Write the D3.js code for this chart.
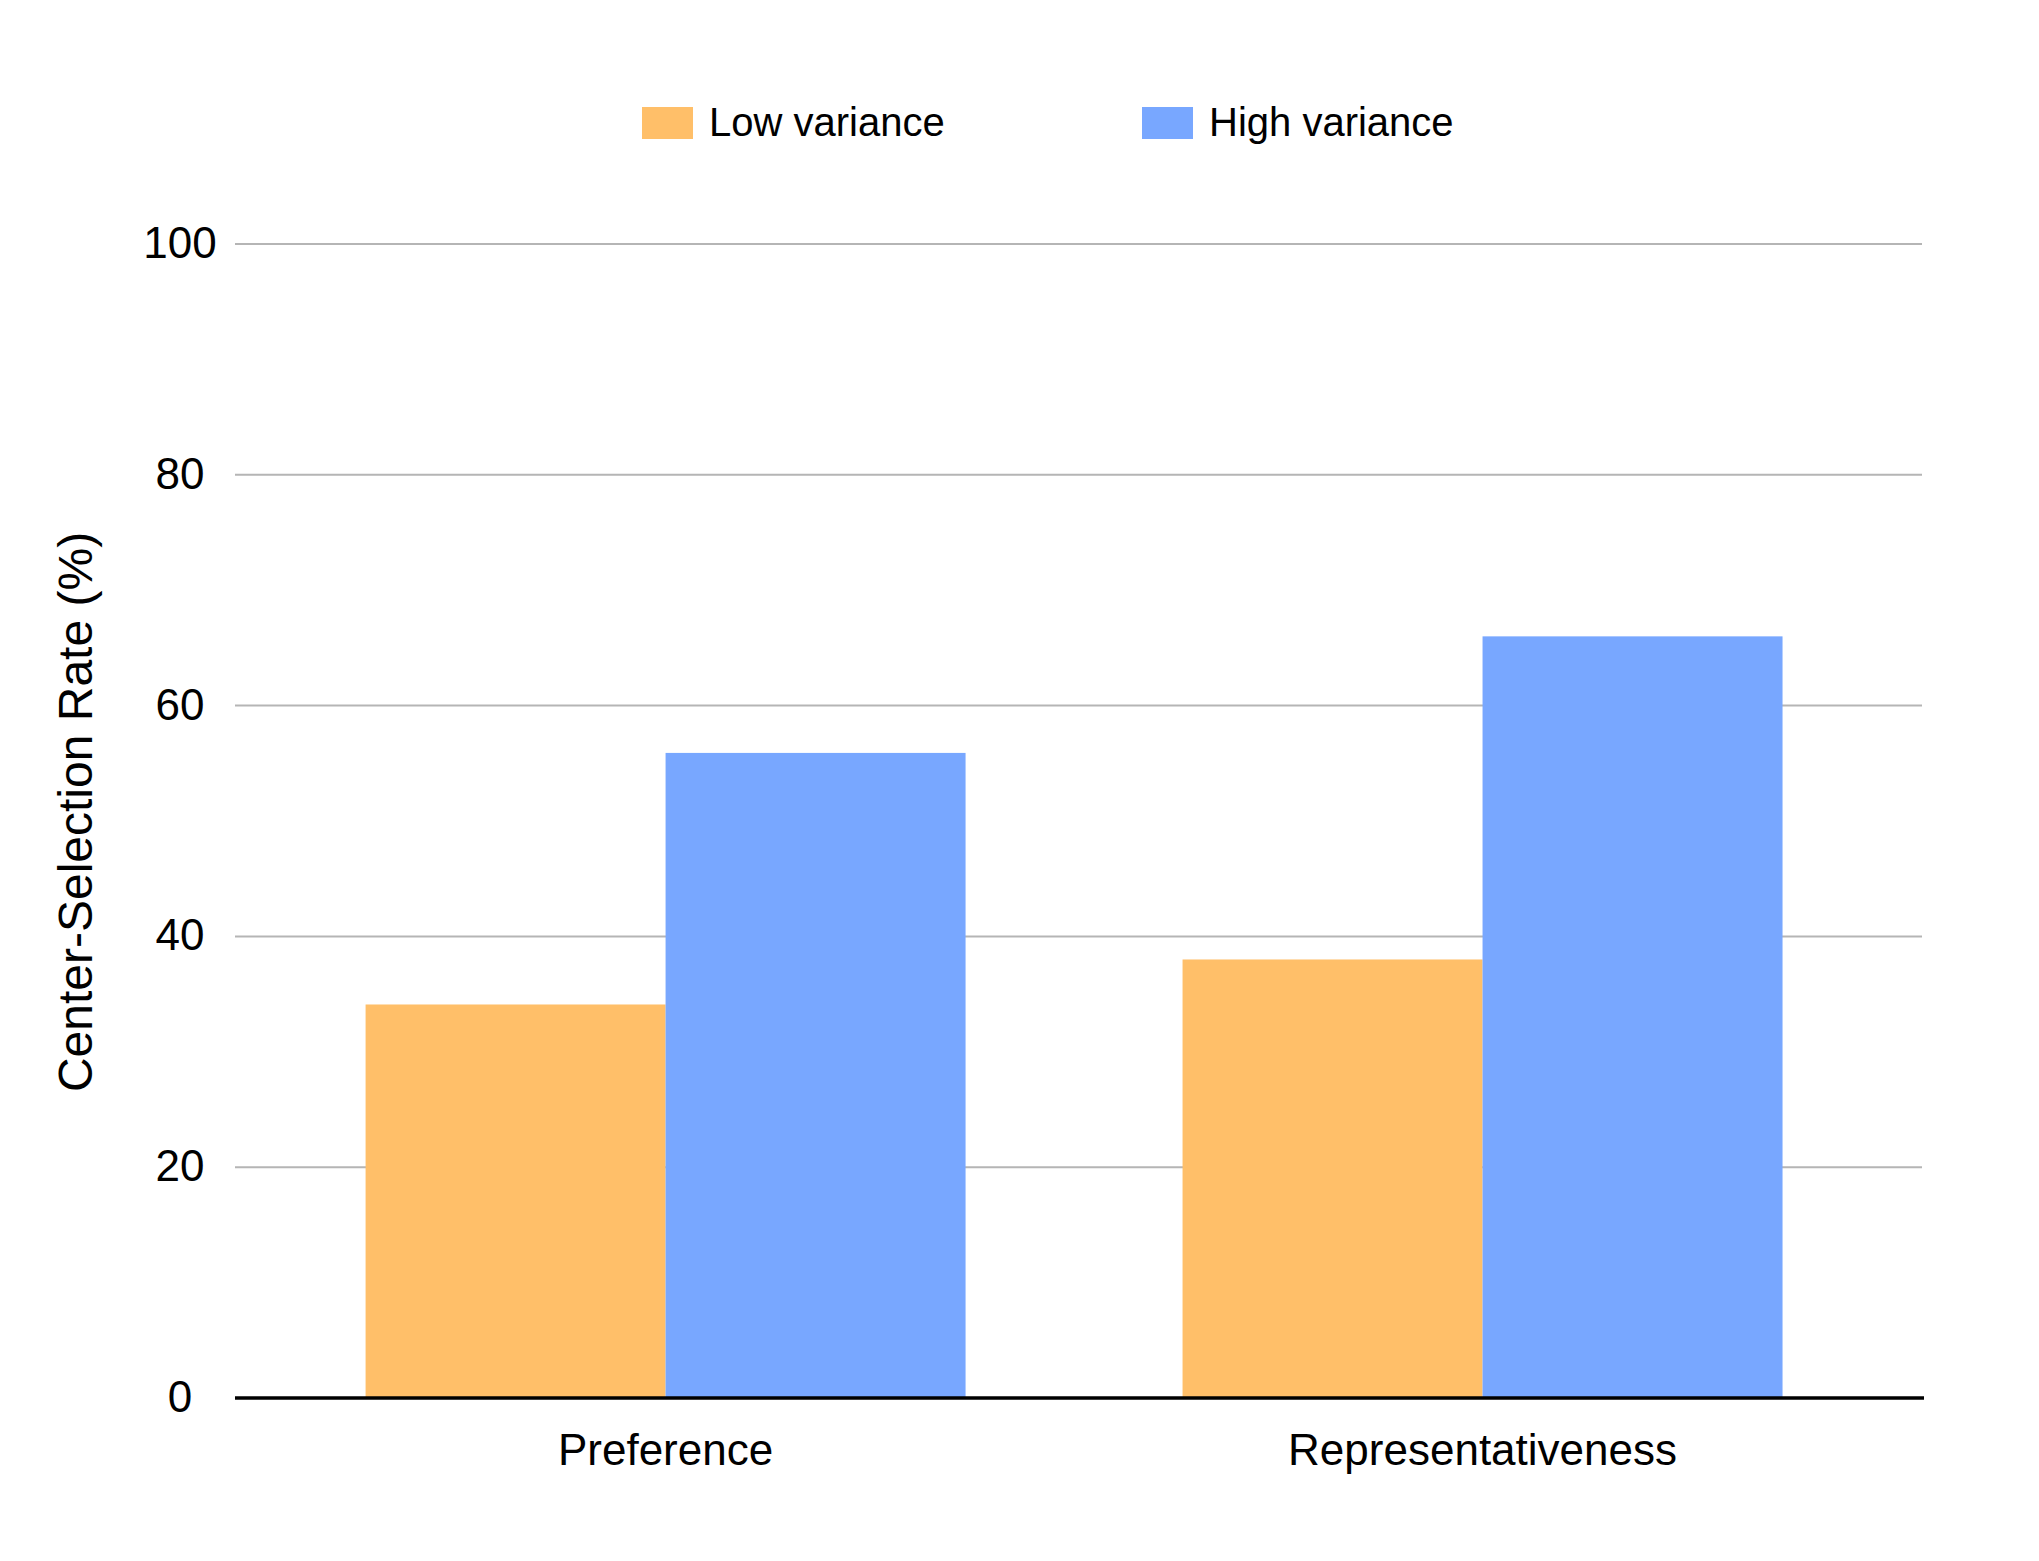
<!DOCTYPE html>
<html>
<head>
<meta charset="utf-8">
<script src="https://cdn.jsdelivr.net/npm/d3@7"></script>
<style>
  body { margin: 0; background: #fff; }
  text { font-family: "Liberation Sans", Arial, sans-serif; fill: #000; }
</style>
</head>
<body>
<div id="chart"></div>
<script>
// data
const categories = ["Preference", "Representativeness"];
const seriesNames = ["Low variance", "High variance"];
const lowVariance = [34.1, 38];
const highVariance = [55.9, 66];
const yTicks = [0, 20, 40, 60, 80, 100];
const colors = ["#ffbf69", "#78a7ff"];

const width = 2039, height = 1561;
const plotLeft = 235, plotRight = 1924;
const plotTop = 244, plotBottom = 1398;

const svg = d3.select("#chart")
    .append("svg")
    .attr("width", width)
    .attr("height", height);

const rows = categories.map((c, i) => ({
    category: c,
    values: [lowVariance[i], highVariance[i]]
}));

//scales
const x0 = d3.scaleBand()
    .domain(categories)
    .range([plotLeft, plotRight])
    .paddingInner(0.2656)
    .paddingOuter(0.1665)
    .align(0.48);

const x1 = d3.scaleBand()
    .domain(seriesNames)
    .range([0, x0.bandwidth()]);

const y = d3.scaleLinear()
    .domain([0, 100])
    .range([plotBottom, plotTop]);

// gridlines
svg.append("g")
    .selectAll("line")
    .data(yTicks.filter(t => t !== 0))
    .enter().append("line")
    .attr("x1", plotLeft)
    .attr("x2", plotRight - 2)
    .attr("y1", d => y(d))
    .attr("y2", d => y(d))
    .style("stroke", "#b5b5b5")
    .style("stroke-width", 2);

// y tick labels
svg.append("g")
    .selectAll("text")
    .data(yTicks)
    .enter().append("text")
    .attr("x", 180)
    .attr("y", d => y(d) + 14)
    .attr("text-anchor", "middle")
    .style("font-size", "44px")
    .text(d => d);

// bars
const groups = svg.append("g")
    .selectAll("g")
    .data(rows)
    .enter().append("g")
    .attr("transform", d => `translate(${x0(d.category)},0)`);

groups.selectAll("rect")
    .data(d => d.values.map((v, i) => ({ series: seriesNames[i], value: v, idx: i })))
    .enter().append("rect")
    .attr("x", d => x1(d.series))
    .attr("width", x1.bandwidth())
    .attr("y", d => y(d.value))
    .attr("height", d => y(0) - y(d.value))
    .style("fill", d => colors[d.idx]);

// baseline
svg.append("line")
    .attr("x1", plotLeft)
    .attr("x2", plotRight)
    .attr("y1", y(0))
    .attr("y2", y(0))
    .style("stroke", "#000")
    .style("stroke-width", 3.5);

// category labels
svg.append("g")
    .selectAll("text")
    .data(categories)
    .enter().append("text")
    .attr("x", d => x0(d) + x0.bandwidth() / 2)
    .attr("y", 1465)
    .attr("text-anchor", "middle")
    .style("font-size", "44px")
    .text(d => d);

// y axis title
svg.append("text")
    .attr("transform", "translate(92,812) rotate(-90)")
    .attr("text-anchor", "middle")
    .style("font-size", "48px")
    .text("Center-Selection Rate (%)");

// legend
const legendX = [642, 1142];
const legend = svg.append("g")
    .selectAll("g")
    .data(seriesNames)
    .enter().append("g")
    .attr("transform", (d, i) => `translate(${legendX[i]},107)`);

legend.append("rect")
    .attr("width", 51)
    .attr("height", 32)
    .style("fill", (d, i) => colors[i]);

legend.append("text")
    .attr("x", 67)
    .attr("y", 29)
    .style("font-size", "40px")
    .text(d => d);
</script>
</body>
</html>
